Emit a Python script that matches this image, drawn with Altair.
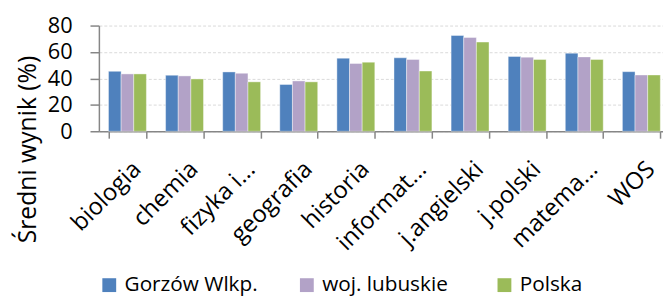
import altair as alt
import pandas as pd

categories = ["biologia", "chemia", "fizyka i...", "geografia", "historia",
              "informat...", "j.angielski", "j.polski", "matema...", "WOS"]
series = ["Gorzów Wlkp.", "woj. lubuskie", "Polska"]
gorzow = [45.4, 42.4, 44.9, 35.4, 55.3, 55.6, 72.5, 56.6, 59.1, 45.1]
lubuskie = [43.4, 41.9, 43.9, 38.1, 51.3, 54.3, 71.0, 56.1, 56.3, 42.6]
polska = [43.4, 39.6, 37.4, 37.4, 52.3, 45.6, 67.5, 54.3, 54.3, 42.6]
colors = ["#4F81BD", "#B2A2C7", "#9BBB59"]

rows = []
for name, vals in zip(series, [gorzow, lubuskie, polska]):
    for c, v in zip(categories, vals):
        rows.append({"przedmiot": c, "seria": name, "wynik": v})
df = pd.DataFrame(rows)

FONT = "Open Sans"

chart = alt.Chart(df).mark_bar(stroke="#ffffff", strokeWidth=0.8, strokeOpacity=0.5).encode(
    x=alt.X("przedmiot:N", sort=categories,
            scale=alt.Scale(range=[0, 578], paddingInner=0.336, paddingOuter=0.168),
            axis=alt.Axis(title=None, labelAngle=-45, labelFontSize=24, labelFont=FONT,
                          labelColor="#000000", labelPadding=19, labelOffset=1,
                          labelAlign="right", labelBaseline="top", tickBand="extent",
                          tickSize=7, tickColor="#868686", tickWidth=1.5,
                          domainColor="#868686", domainWidth=1.5, grid=False)),
    xOffset=alt.XOffset("seria:N", sort=series, scale=alt.Scale(paddingInner=0, paddingOuter=0)),
    y=alt.Y("wynik:Q", scale=alt.Scale(domain=[0, 80], nice=False),
            axis=alt.Axis(title="Średni wynik (%)", values=[0, 20, 40, 60, 80],
                          labelFontSize=22, labelFont=FONT, labelColor="#000000",
                          labelPadding=18, tickSize=9, tickColor="#868686", tickWidth=1.5,
                          domainColor="#868686", domainWidth=1.5,
                          grid=True, gridColor="#d9d9d9", gridDash=[3, 2], gridWidth=1,
                          titleFontSize=25, titleFont=FONT, titleFontWeight="normal",
                          titleColor="#000000", titleX=-72, titleY=125, titleAngle=270,
                          titleAlign="center", titleBaseline="middle")),
    color=alt.Color("seria:N", sort=series,
                    scale=alt.Scale(domain=series, range=colors),
                    legend=alt.Legend(title=None, orient="none", direction="horizontal",
                                      legendX=0, legendY=252, symbolType="square",
                                      symbolSize=196, symbolStrokeWidth=0,
                                      labelFontSize=21, labelFont=FONT, labelColor="#000000",
                                      labelOffset=5, columnPadding=39, gridAlign="all")),
).properties(
    width=571, height=107,
    autosize=alt.AutoSizeParams(type="none"),
    padding={"left": 92, "top": 16, "right": 0, "bottom": 168},
).configure_view(stroke=None)

chart.save("out.html", embed_options={"renderer": "svg", "actions": False})
